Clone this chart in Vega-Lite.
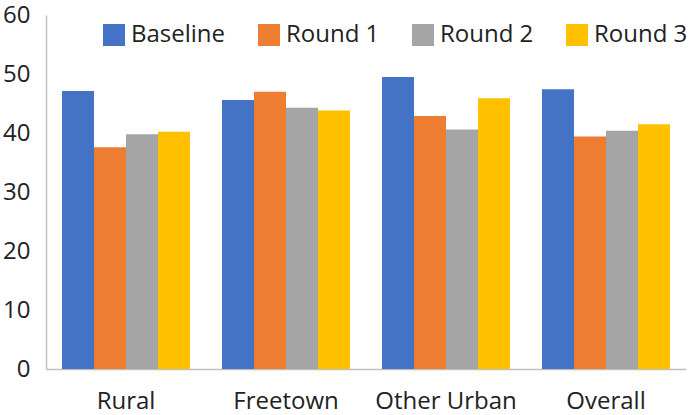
{
  "$schema": "https://vega.github.io/schema/vega-lite/v6.json",
  "autosize": "none",
  "width": 640,
  "height": 354,
  "padding": {"left": 46, "top": 15, "right": 12, "bottom": 46},
  "background": "white",
  "config": {
    "font": "Open Sans",
    "view": {"stroke": null}
  },
  "data": {
    "values": [
      {"region": "Rural", "series": "Baseline", "value": 47.1},
      {"region": "Rural", "series": "Round 1", "value": 37.6},
      {"region": "Rural", "series": "Round 2", "value": 39.8},
      {"region": "Rural", "series": "Round 3", "value": 40.2},
      {"region": "Freetown", "series": "Baseline", "value": 45.6},
      {"region": "Freetown", "series": "Round 1", "value": 47.0},
      {"region": "Freetown", "series": "Round 2", "value": 44.3},
      {"region": "Freetown", "series": "Round 3", "value": 43.8},
      {"region": "Other Urban", "series": "Baseline", "value": 49.5},
      {"region": "Other Urban", "series": "Round 1", "value": 42.9},
      {"region": "Other Urban", "series": "Round 2", "value": 40.6},
      {"region": "Other Urban", "series": "Round 3", "value": 45.9},
      {"region": "Overall", "series": "Baseline", "value": 47.4},
      {"region": "Overall", "series": "Round 1", "value": 39.4},
      {"region": "Overall", "series": "Round 2", "value": 40.4},
      {"region": "Overall", "series": "Round 3", "value": 41.5}
    ]
  },
  "mark": {"type": "bar"},
  "encoding": {
    "x": {
      "field": "region",
      "type": "nominal",
      "sort": ["Rural", "Freetown", "Other Urban", "Overall"],
      "scale": {"paddingInner": 0.2, "paddingOuter": 0.1},
      "axis": {
        "title": null,
        "labelAngle": 0,
        "labelFontSize": 24,
        "labelColor": "#222222",
        "labelPadding": 20,
        "labelOverlap": false,
        "ticks": false,
        "domainColor": "#BFBFBF",
        "domainWidth": 1.5
      }
    },
    "xOffset": {
      "field": "series",
      "type": "nominal",
      "scale": {"paddingInner": 0, "paddingOuter": 0}
    },
    "y": {
      "field": "value",
      "type": "quantitative",
      "scale": {"domain": [0, 60]},
      "axis": {
        "title": null,
        "values": [0, 10, 20, 30, 40, 50, 60],
        "labelOverlap": false,
        "labelFlush": false,
        "grid": false,
        "ticks": false,
        "labelFontSize": 24,
        "labelColor": "#222222",
        "labelPadding": 16,
        "domainColor": "#BFBFBF",
        "domainWidth": 1.5
      }
    },
    "color": {
      "field": "series",
      "type": "nominal",
      "scale": {
        "domain": ["Baseline", "Round 1", "Round 2", "Round 3"],
        "range": ["#4472C4", "#ED7D31", "#A5A5A5", "#FFC000"]
      },
      "legend": {
        "title": null,
        "orient": "none",
        "direction": "horizontal",
        "legendX": 56,
        "legendY": 8,
        "symbolType": "square",
        "symbolSize": 484,
        "symbolStrokeWidth": 0,
        "symbolOpacity": 1,
        "labelFontSize": 24,
        "labelColor": "#222222",
        "labelOffset": 5,
        "labelLimit": 300,
        "columnPadding": 31
      }
    }
  }
}
